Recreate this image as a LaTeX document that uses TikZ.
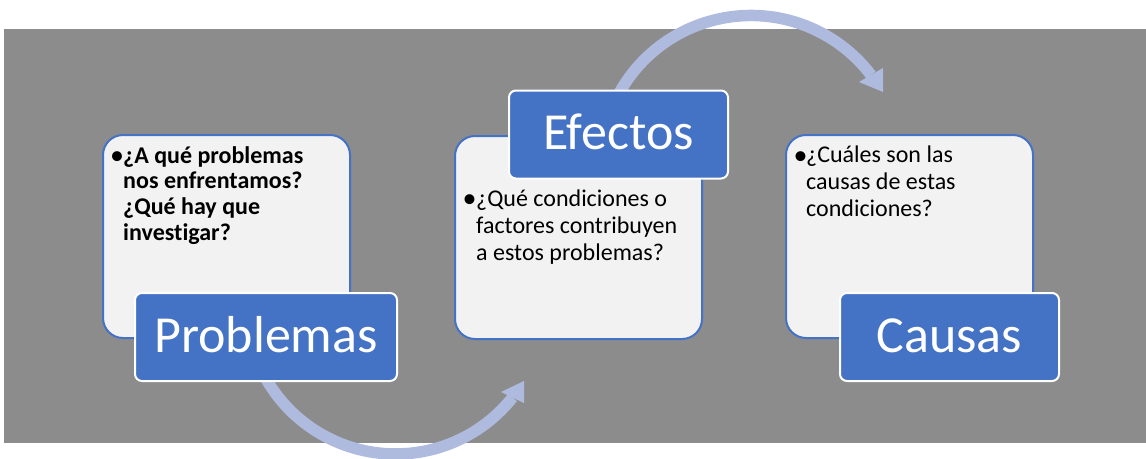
\documentclass[tikz,border=0pt]{standalone}
\usepackage{fontspec}
\setmainfont{Carlito}[Ligatures=NoCommon]
\usetikzlibrary{calc}
\definecolor{bggray}{RGB}{140,140,140}
\definecolor{accent}{RGB}{68,114,196}
\definecolor{lightfill}{RGB}{242,242,242}
\definecolor{arrowblue}{RGB}{174,187,222}
\begin{document}
\begin{tikzpicture}[x=1pt,y=-1pt,
  infobox/.style={draw=accent,line width=2pt,fill=lightfill,rounded corners=20pt,
    minimum width=247pt,minimum height=203pt,anchor=north west,inner sep=0pt},
  labelbox/.style={draw=white,line width=2pt,fill=accent,rounded corners=7pt,
    minimum height=88pt,inner sep=0pt,text=white,
    font=\fontsize{52}{60}\selectfont,text height=30pt,text depth=0pt},
  bodytext/.style={font=\fontsize{24}{27}\selectfont,align=left,inner sep=0pt,anchor=base west},
  bullettext/.style={font=\fontsize{28}{28}\selectfont,inner sep=0pt,anchor=base west},
  flow/.style={draw=arrowblue,line width=11.5pt},
  ]
\useasboundingbox (0,0) rectangle (1146,458);
\fill[white] (0,0) rectangle (1146,458);
\fill[bggray] (4,29) rectangle (1146,443);

% curved arrows (behind the boxes)
\coordinate (c1) at (395.6,304.8);
\coordinate (c2) at (751,166.2);
\draw[flow] ($(c1)+(151:149.2)$) arc[start angle=151,end angle=38.4,radius=149.2];
\fill[arrowblue] (501,392) -- (524,381) -- (524,403) -- cycle;
\draw[flow] ($(c2)+(-153:150.7)$) arc[start angle=-153,end angle=-37.2,radius=150.7];
\fill[arrowblue] (859,82) -- (883,68) -- (883,92) -- cycle;

% information boxes
\node[infobox] (p1) at (102,134) {};
\node[infobox] (p2) at (454,135) {};
\node[infobox] (p3) at (785,134) {};

% box texts (base anchor of a multi-line node = baseline of its last line)
\node[bullettext] (b1) at (110,164.5) {•};
\node[bodytext,font=\fontsize{24}{25.8}\selectfont\bfseries] (t1) at (123,240.4)
  {¿A qué problemas\\nos enfrentamos?\\¿Qué hay que\\investigar?};
\node[bullettext] (b2) at (462.5,207.5) {•};
\node[bodytext] (t2) at (476,260)
  {¿Qué condiciones o\\factores contribuyen\\a estos problemas?};
\node[bullettext] (b3) at (793.5,164.5) {•};
\node[bodytext] (t3) at (806,216)
  {¿Cuáles son las\\causas de estas\\condiciones?};

% label boxes
\node[labelbox,minimum width=262pt] (l1) at (266,337) {Problemas};
\node[labelbox,minimum width=219pt] (l2) at (618.5,134.5) {Efectos};
\node[labelbox,minimum width=219pt] (l3) at (949.5,337) {Causas};
\end{tikzpicture}
\end{document}
